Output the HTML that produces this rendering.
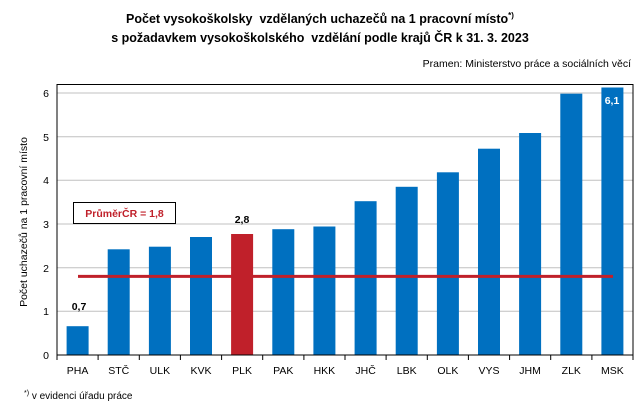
<!DOCTYPE html><html><head><meta charset="utf-8"><style>body{margin:0;background:#fff}svg{display:block;font-family:"Liberation Sans",sans-serif}.pre{white-space:pre}</style></head><body>
<svg width="639" height="412" xmlns="http://www.w3.org/2000/svg">
<text class="pre" x="320" y="23" font-size="12.5" font-weight="bold" text-anchor="middle">Počet vysokoškolsky  vzdělaných uchazečů na 1 pracovní místo<tspan font-size="8" dy="-5">*)</tspan></text>
<text class="pre" x="320" y="42" font-size="12.5" font-weight="bold" text-anchor="middle">s požadavkem vysokoškolského  vzdělání podle krajů ČR k 31. 3. 2023</text>
<text x="631" y="67" font-size="10.5" text-anchor="end">Pramen:  Ministerstvo práce a sociálních věcí</text>
<g stroke="#c0c0c0" stroke-width="1">
<line x1="57" x2="633" y1="311.3" y2="311.3"/><line x1="57" x2="633" y1="267.7" y2="267.7"/><line x1="57" x2="633" y1="224" y2="224"/><line x1="57" x2="633" y1="180.3" y2="180.3"/><line x1="57" x2="633" y1="136.7" y2="136.7"/><line x1="57" x2="633" y1="93" y2="93"/></g>
<g font-size="10.5" text-anchor="end"><text x="49" y="359">0</text><text x="49" y="315">1</text><text x="49" y="272">2</text><text x="49" y="228">3</text><text x="49" y="184">4</text><text x="49" y="141">5</text><text x="49" y="97">6</text></g>
<text transform="translate(27,222) rotate(-90)" font-size="10.5" text-anchor="middle">Počet uchazečů na 1 pracovní místo</text>
<g fill="#0070c0">
<rect x="66.6" y="326.2" width="22" height="28.8"/>
<rect x="107.7" y="249.3" width="22" height="105.7"/>
<rect x="148.9" y="246.7" width="22" height="108.3"/>
<rect x="190" y="237" width="22" height="118"/>
<rect x="231.1" y="234" width="22" height="121" fill="#c0202a"/>
<rect x="272.3" y="229.2" width="22" height="125.8"/>
<rect x="313.4" y="226.5" width="22" height="128.5"/>
<rect x="354.6" y="201.2" width="22" height="153.8"/>
<rect x="395.7" y="186.8" width="22" height="168.2"/>
<rect x="436.9" y="172.3" width="22" height="182.7"/>
<rect x="478" y="148.7" width="22" height="206.3"/>
<rect x="519.1" y="133" width="22" height="222"/>
<rect x="560.3" y="93.7" width="22" height="261.3"/>
<rect x="601.4" y="87.5" width="22" height="267.5"/></g>
<line x1="78" x2="613" y1="276.4" y2="276.4" stroke="#c0202a" stroke-width="3"/>
<rect x="57" y="84.5" width="576" height="270.5" fill="none" stroke="#000" stroke-width="1"/>
<g stroke="#000"><line x1="57" x2="633" y1="355" y2="355"/>
<line x1="57" x2="57" y1="355" y2="360"/><line x1="98.1" x2="98.1" y1="355" y2="360"/><line x1="139.3" x2="139.3" y1="355" y2="360"/><line x1="180.4" x2="180.4" y1="355" y2="360"/><line x1="221.6" x2="221.6" y1="355" y2="360"/><line x1="262.7" x2="262.7" y1="355" y2="360"/><line x1="303.9" x2="303.9" y1="355" y2="360"/><line x1="345" x2="345" y1="355" y2="360"/><line x1="386.1" x2="386.1" y1="355" y2="360"/><line x1="427.3" x2="427.3" y1="355" y2="360"/><line x1="468.4" x2="468.4" y1="355" y2="360"/><line x1="509.6" x2="509.6" y1="355" y2="360"/><line x1="550.7" x2="550.7" y1="355" y2="360"/><line x1="591.9" x2="591.9" y1="355" y2="360"/><line x1="633" x2="633" y1="355" y2="360"/></g>
<g font-size="10.5" text-anchor="middle"><text x="77.6" y="374">PHA</text><text x="118.7" y="374">STČ</text><text x="159.9" y="374">ULK</text><text x="201" y="374">KVK</text><text x="242.1" y="374">PLK</text><text x="283.3" y="374">PAK</text><text x="324.4" y="374">HKK</text><text x="365.6" y="374">JHČ</text><text x="406.7" y="374">LBK</text><text x="447.9" y="374">OLK</text><text x="489" y="374">VYS</text><text x="530.1" y="374">JHM</text><text x="571.3" y="374">ZLK</text><text x="612.4" y="374">MSK</text></g>
<text x="79" y="310" font-size="10.5" font-weight="bold" text-anchor="middle">0,7</text>
<text x="242" y="223" font-size="10.5" font-weight="bold" text-anchor="middle">2,8</text>
<text x="612" y="104" font-size="10.5" font-weight="bold" fill="#fff" text-anchor="middle">6,1</text>
<rect x="73.5" y="202.5" width="102" height="21" fill="#fff" stroke="#000"/>
<text x="124.5" y="217" font-size="10.5" font-weight="bold" fill="#c0202a" text-anchor="middle">PrůměrČR = 1,8</text>
<text x="24" y="399" font-size="10"><tspan font-size="7" dy="-4">*)</tspan><tspan dy="4"> v evidenci úřadu práce</tspan></text>
</svg></body></html>
